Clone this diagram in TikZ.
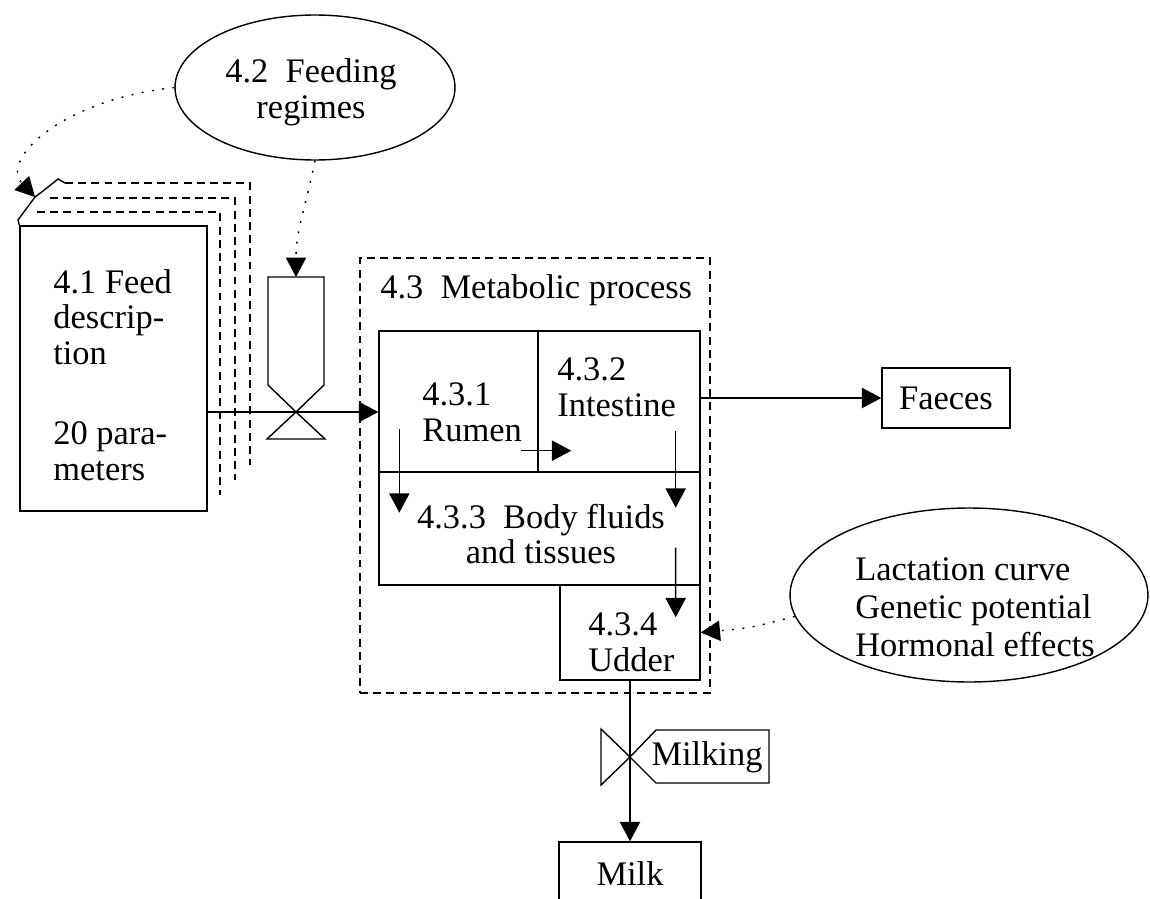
\documentclass[tikz,border=0pt]{standalone}
\usepackage{fontspec}
\setmainfont{Liberation Serif}
\usetikzlibrary{shapes.geometric,arrows.meta}

\begin{document}
\begin{tikzpicture}[x=0.02cm,y=-0.02cm,
    font=\fontsize{19.6}{20.3}\selectfont,
    box/.style={draw,line width=0.8pt,inner sep=0pt},
    lbl/.style={align=left,inner sep=0pt},
    dashline/.style={line width=0.8pt,dash pattern=on 4.5pt off 3pt},
    dotline/.style={line width=1.1pt,dash pattern=on 1.1pt off 4.8pt},
    arr/.style={line width=0.8pt,-{Triangle[length=11pt,width=11.5pt]}}]
  \useasboundingbox (0,0) rectangle (1150,899);

  % 4.1 Feed description: stack of sheets
  \node[box,minimum width=3.74cm,minimum height=5.7cm] (feed) at (113.5,368.5) {};
  \draw[dashline] (37,212) -- (220,212) -- (220,495);
  \draw[dashline] (50,198) -- (235,198) -- (235,480);
  \draw[dashline] (65,183) -- (250,183) -- (250,465);
  \coordinate (fold) at (35,197);
  \draw[line width=0.8pt] (feed.north west) -- (18,220) -- (fold) -- (43,191) -- (58,179) -- (65,183);
  \node[lbl,anchor=west] (feedtxt) at (53,317) {4.1 Feed\\descrip-\\tion};
  \node[lbl,anchor=west] (partxt) at (53,451) {20 para-\\meters};

  % 4.2 Feeding regimes
  \node[draw,ellipse,line width=0.8pt,minimum width=5.6cm,minimum height=2.9cm,inner sep=0pt] (feeding) at (315,87.5) {};
  \node[align=center,inner sep=0pt] (feedingtxt) at (311,92) {4.2~~Feeding\\regimes};

  % hopper with valve
  \coordinate (hoptop) at (296,277);
  \coordinate (hopx) at (296,412);
  \draw[line width=0.8pt] (268,277) -- (324,277) -- (324,385) -- (hopx) -- (268,385) -- cycle;
  \draw[line width=0.8pt] (hopx) -- (267,439) -- (325,439) -- cycle;

  % 4.3 Metabolic process
  \node[box,dashline,minimum width=7cm,minimum height=8.7cm] (meta) at (535,475.5) {};
  \node[lbl,anchor=west] (metatxt) at (380,290) {4.3~~Metabolic process};
  \node[box,minimum width=3.18cm,minimum height=2.82cm] (rumen) at (458.5,401.5) {};
  \node[box,minimum width=3.24cm,minimum height=2.82cm] (intestine) at (619,401.5) {};
  \node[box,minimum width=6.42cm,minimum height=2.26cm] (body) at (539.5,528.5) {};
  \node[box,minimum width=2.8cm,minimum height=1.9cm] (udder) at (630,632.5) {};
  \node[lbl,anchor=west] (rumentxt) at (422,412) {4.3.1\\Rumen};
  \node[lbl,anchor=west] (intestinetxt) at (557,387) {4.3.2\\Intestine};
  \node[align=center,inner sep=0pt] (bodytxt) at (541,534) {4.3.3~~Body fluids\\and tissues};
  \node[lbl,anchor=west] (uddertxt) at (588,642) {4.3.4\\Udder};

  % flows inside
  \draw[arr] ([shift={(-18,-22)}]rumen.south east) -- ([shift={(34,-22)}]intestine.south west);
  \draw[arr] ([shift={(21,-44)}]rumen.south west) -- ([shift={(21,40)}]rumen.south west);
  \draw[arr] ([shift={(-25,-42)}]intestine.south east) -- ([shift={(-25,35)}]intestine.south east);
  \draw[arr] ([shift={(-25,-38)}]body.south east) -- ([shift={(-25,33)}]udder.north east);

  % feed in
  \draw[arr] (feed.east |- hopx) -- (rumen.west |- hopx);
  \draw[dotline,arr] (feeding.west) .. controls (60,100) and (0,160) .. (fold);
  \draw[dotline,arr] (feeding.south) .. controls (305,210) and (296,230) .. (hoptop);

  % Faeces
  \node[box,minimum width=2.56cm,minimum height=1.2cm] (faeces) at (946,398) {Faeces};
  \draw[arr] (intestine.east |- faeces.west) -- (faeces.west);

  % udder controls
  \node[draw,ellipse,line width=0.8pt,minimum width=7.16cm,minimum height=3.48cm,inner sep=0pt] (hormones) at (969,595) {};
  \node[lbl,anchor=west,font=\fontsize{19.6}{21.5}\selectfont] (hormonestxt) at (855,607) {Lactation curve\\Genetic potential\\Hormonal effects};
  \draw[dotline,arr] (hormones.187) .. controls (750,628) .. (udder.east);

  % Milking
  \node[box,minimum width=2.84cm,minimum height=1.4cm] (milk) at (630,877) {};
  \node[inner sep=0pt] (milktxt) at (630,874) {Milk};
  \draw[arr] (udder.south) -- (milk.north);
  \coordinate (milkx) at (630,757);
  \draw[line width=0.8pt] (601,729) -- (601,785) -- (milkx) -- cycle;
  \draw[line width=0.8pt] (milkx) -- (656,730) -- (769,730) -- (769,783) -- (656,783) -- cycle;
  \node[inner sep=0pt] (milkingtxt) at (707,757) {Milking};
\end{tikzpicture}
\end{document}
